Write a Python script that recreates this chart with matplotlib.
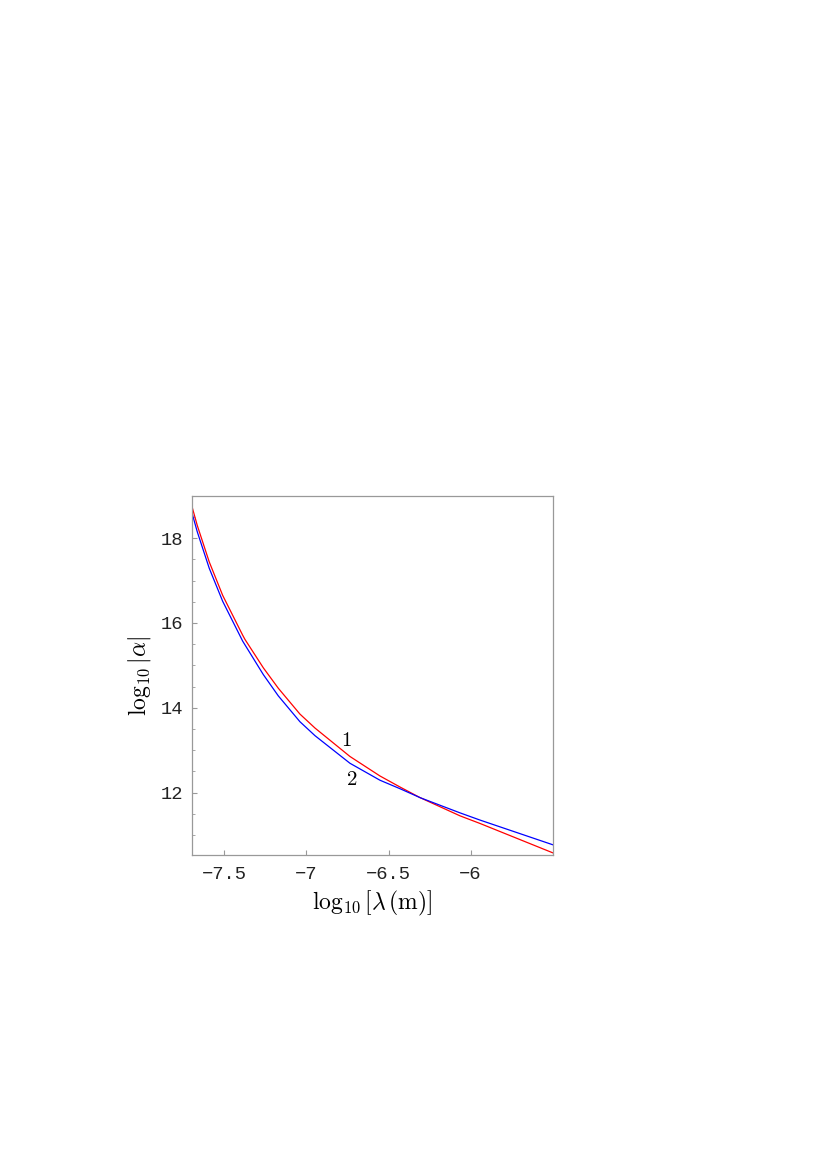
import matplotlib
matplotlib.use("Agg")
import matplotlib.pyplot as plt
from matplotlib.ticker import MultipleLocator

plt.rcParams["mathtext.fontset"] = "cm"

# curve 1 (red)
x_red = [-7.70, -7.666, -7.593, -7.511, -7.389, -7.375, -7.263, -7.172, -7.04,
         -6.948, -6.735, -6.552, -6.43, -6.308, -6.064, -5.942, -5.50]
y_red = [18.77, 18.30, 17.44, 16.65, 15.71, 15.61, 14.94, 14.46, 13.85,
         13.52, 12.85, 12.39, 12.13, 11.88, 11.45, 11.27, 10.58]

# curve 2 (blue)
x_blue = [-7.70, -7.666, -7.593, -7.511, -7.389, -7.263, -7.172, -7.04,
          -6.948, -6.735, -6.552, -6.43, -6.308, -6.064, -5.942, -5.50]
y_blue = [18.62, 18.15, 17.29, 16.51, 15.57, 14.78, 14.28, 13.67,
          13.34, 12.69, 12.29, 12.09, 11.88, 11.52, 11.35, 10.77]

x_ticks = [-7.5, -7.0, -6.5, -6.0]
x_ticklabels = ["\u22127.5", "\u22127", "\u22126.5", "\u22126"]
y_ticks = [12, 14, 16, 18]

fig = plt.figure(figsize=(8.28, 11.7), dpi=100)
ax = fig.add_axes([0.2315, 0.269, 0.4358, 0.3073])

ax.plot(x_red, y_red, color="#ff0000", lw=0.9)
ax.plot(x_blue, y_blue, color="#0000ff", lw=0.9)

ax.set_xlim(-7.7, -5.5)
ax.set_ylim(10.52, 19.0)

ax.set_xticks(x_ticks)
ax.set_xticklabels(x_ticklabels)
ax.set_yticks(y_ticks)
ax.yaxis.set_minor_locator(MultipleLocator(0.5))

for s in ax.spines.values():
    s.set_color("#999999")
    s.set_linewidth(0.9)

ax.tick_params(which="both", direction="in", color="#999999", top=False, right=False)
ax.tick_params(which="major", length=3.5, width=0.8)
ax.tick_params(which="minor", length=2, width=0.6)
ax.tick_params(axis="x", pad=8)
ax.tick_params(axis="y", pad=6)
for lab in ax.get_xticklabels() + ax.get_yticklabels():
    lab.set_fontfamily("Liberation Mono")
    lab.set_fontsize(13.5)
    lab.set_color("#222222")

ax.set_xlabel(r"$\log_{10}[\lambda\,(\mathrm{m})]$", fontsize=17, labelpad=4)
ax.set_ylabel(r"$\log_{10}|\alpha|$", fontsize=17, labelpad=6)

ax.text(-6.759, 13.24, r"$1$", fontsize=15, ha="center", va="center")
ax.text(-6.723, 12.32, r"$2$", fontsize=15, ha="center", va="center")

fig.savefig("out.png", dpi=100)
